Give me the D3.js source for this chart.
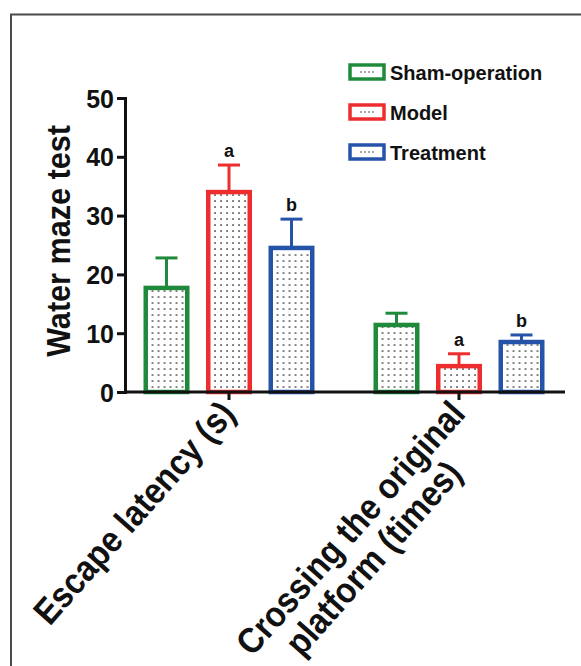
<!DOCTYPE html>
<html>
<head>
<meta charset="utf-8">
<script src="https://cdn.jsdelivr.net/npm/d3@7"></script>
<style>
  body { margin: 0; background: white; }
  text { font-family: "Liberation Sans", Arial, sans-serif; font-weight: bold; fill: #111; }
</style>
</head>
<body>
<div id="main_content"></div>
<script>
var width = 581, height = 666;

// data
var categories = ['Escape latency (s)', 'Crossing the original platform (times)'];
var categoryLines = [['Escape latency (s)'], ['Crossing the original', 'platform (times)']];
var groups = ['Sham-operation', 'Model', 'Treatment'];
var colors = ['#1f8a3b', '#ee2e2e', '#2553a8'];
var means = [[17.7, 34.0, 24.5], [11.4, 4.4, 8.5]];
var errors = [[5.1, 4.6, 4.9], [2.0, 2.1, 1.2]];
var marks = [['', 'a', 'b'], ['', 'a', 'b']];
var yTicks = [0, 10, 20, 30, 40, 50];

var svg = d3.select('#main_content').append('svg')
  .attr('width', width)
  .attr('height', height)
  .style('background', 'white');

// dotted fill
var defs = svg.append('defs');
var pat = defs.append('pattern')
  .attr('id', 'dots')
  .attr('patternUnits', 'userSpaceOnUse')
  .attr('width', 6).attr('height', 6);
pat.append('rect').attr('width', 6).attr('height', 6).attr('fill', 'white');
pat.append('rect').attr('x', 2.3).attr('y', 2.3).attr('width', 1.5).attr('height', 1.5).attr('fill', '#2a2a2a');

// outer frame
svg.append('rect')
  .attr('x', 11).attr('y', 14.5)
  .attr('width', 600).attr('height', 700)
  .attr('fill', 'none')
  .attr('stroke', '#4a4a4a')
  .attr('stroke-width', 2);

var y = d3.scaleLinear().domain([0, 50]).range([392, 98]);
var x0 = d3.scaleBand().domain(categories).range([114, 574]);
var x1 = d3.scaleBand().domain(groups).range([21.25, 208.75])
  .paddingInner(0.264).paddingOuter(0.132);

var rows = [];
categories.forEach(function(c, i) {
  groups.forEach(function(g, j) {
    rows.push({cat: c, grp: g, v: means[i][j], e: errors[i][j], m: marks[i][j], color: colors[j]});
  });
});

var bar = svg.selectAll('g.bar')
  .data(rows)
  .enter().append('g')
  .attr('class', 'bar')
  .attr('transform', function(d) { return 'translate(' + (x0(d.cat) + x1(d.grp)) + ',0)'; });

var bw = x1.bandwidth(), sw = 4.5;

// error bars (upper only)
bar.append('line')
  .attr('x1', bw / 2).attr('x2', bw / 2)
  .attr('y1', function(d) { return y(d.v); })
  .attr('y2', function(d) { return y(d.v + d.e); })
  .attr('stroke', function(d) { return d.color; })
  .attr('stroke-width', 3);
bar.append('line')
  .attr('x1', bw / 2 - 11).attr('x2', bw / 2 + 11)
  .attr('y1', function(d) { return y(d.v + d.e); })
  .attr('y2', function(d) { return y(d.v + d.e); })
  .attr('stroke', function(d) { return d.color; })
  .attr('stroke-width', 3);

bar.append('rect')
  .attr('x', sw / 2)
  .attr('width', bw - sw)
  .attr('y', function(d) { return y(d.v); })
  .attr('height', function(d) { return y(0) - y(d.v); })
  .attr('fill', 'url(#dots)')
  .attr('stroke', function(d) { return d.color; })
  .attr('stroke-width', sw);

bar.append('text')
  .attr('x', bw / 2)
  .attr('y', function(d) { return y(d.v + d.e) - 8; })
  .attr('text-anchor', 'middle')
  .style('font-size', '18px')
  .text(function(d) { return d.m; });

// axes
var yAxis = svg.append('g')
  .attr('transform', 'translate(125,0)')
  .call(d3.axisLeft(y).tickValues(yTicks).tickSize(8).tickPadding(3));
yAxis.select('.domain').attr('stroke', '#111').attr('stroke-width', 3);
yAxis.selectAll('.tick line').attr('stroke', '#111').attr('stroke-width', 3);
yAxis.selectAll('.tick text')
  .style('font-size', '25px')
  .style('font-family', '"Liberation Sans", Arial, sans-serif')
  .attr('fill', '#111')
  .attr('dy', '0.36em');

var xAxis = svg.append('g')
  .attr('transform', 'translate(0,392)');
xAxis.append('line')
  .attr('x1', 125).attr('x2', 565)
  .attr('stroke', '#111').attr('stroke-width', 3);
xAxis.selectAll('line.tk')
  .data(categories)
  .enter().append('line')
  .attr('class', 'tk')
  .attr('x1', function(d) { return x0(d) + x0.bandwidth() / 2; })
  .attr('x2', function(d) { return x0(d) + x0.bandwidth() / 2; })
  .attr('y1', 0).attr('y2', 8)
  .attr('stroke', '#111').attr('stroke-width', 3);

var xl = xAxis.selectAll('g.xl')
  .data(categories)
  .enter().append('g')
  .attr('class', 'xl')
  .attr('transform', function(d) { return 'translate(' + (x0(d) + x0.bandwidth() / 2 + 8) + ',23) rotate(-48.5) scale(0.9,1)'; });
xl.each(function(d, i) {
  var lines = categoryLines[i];
  var t = d3.select(this).append('text')
    .attr('text-anchor', 'end')
    .style('font-size', '36px');
  lines.forEach(function(l, k) {
    t.append('tspan').attr('x', -k * 52).attr('y', k * 37).text(l);
  });
});

svg.append('text')
  .attr('transform', 'translate(70,241) rotate(-90) scale(0.9,1)')
  .attr('text-anchor', 'middle')
  .style('font-size', '34px')
  .text('Water maze test');

// legend
var legend = svg.selectAll('g.lg')
  .data(groups)
  .enter().append('g')
  .attr('class', 'lg')
  .attr('transform', function(d, i) { return 'translate(350,' + (65 + i * 40) + ')'; });
legend.append('rect')
  .attr('width', 34).attr('height', 14)
  .attr('fill', 'white')
  .attr('stroke', function(d, i) { return colors[i]; })
  .attr('stroke-width', 3.5);
legend.selectAll('circle')
  .data([0, 1, 2, 3])
  .enter().append('circle')
  .attr('cx', function(d) { return 11 + d * 4; })
  .attr('cy', 7).attr('r', 0.8).attr('fill', '#333');
legend.append('text')
  .attr('x', 40).attr('y', 14.5)
  .style('font-size', '20px')
  .text(function(d) { return d; });
</script>
</body>
</html>
